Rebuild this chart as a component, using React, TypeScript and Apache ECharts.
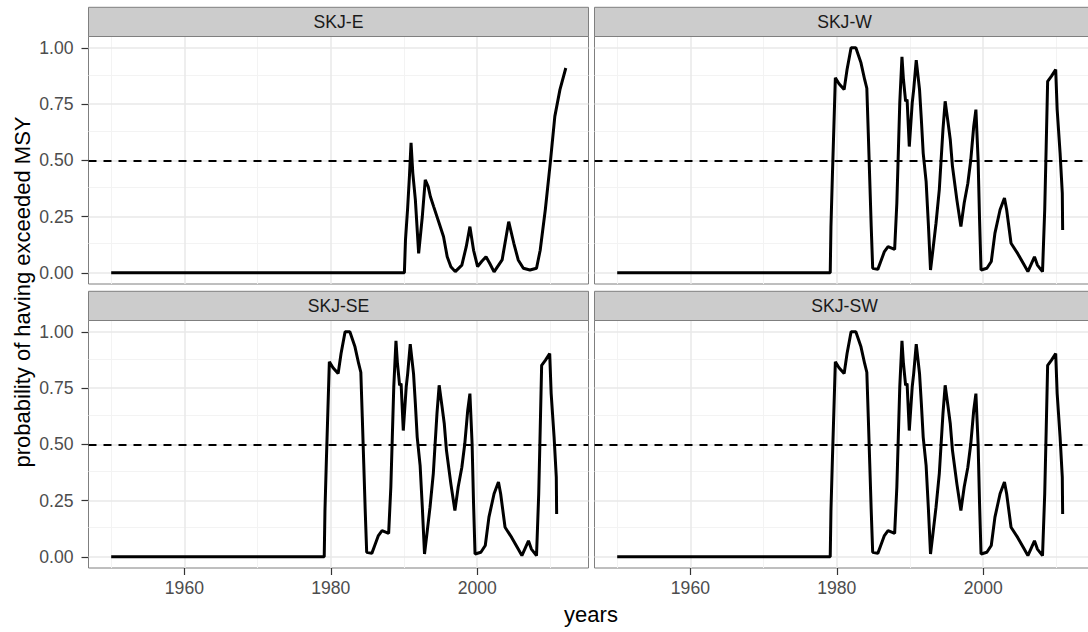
import React, { useEffect, useRef } from "react";
import * as echarts from "echarts";

// ---------- data ----------
const panelNames = ["SKJ-E", "SKJ-W", "SKJ-SE", "SKJ-SW"];
const yTicks = [0, 0.25, 0.5, 0.75, 1];
const yMinorTicks = [0.125, 0.375, 0.625, 0.875];
const xTicks = [1960, 1980, 2000];
const xMinorTicks = [1950, 1970, 1990, 2010];
const threshold = 0.5;

const eYears = [1950, 1990.05, 1990.2, 1990.5, 1990.75, 1990.96, 1991.2, 1991.55, 1992.0, 1992.5, 1992.9, 1993.3, 1993.6, 1994.05, 1994.8, 1995.4, 1995.9, 1996.4, 1997.0, 1997.9, 1998.5, 1999.0, 1999.5, 2000.05, 2000.6, 2001.2, 2001.7, 2002.3, 2003.4, 2004.3, 2005.0, 2005.6, 2006.3, 2007.2, 2008.1, 2008.6, 2009.3, 2010.0, 2010.6, 2011.3, 2012.1];
const eProb = [0, 0, 0.146, 0.29, 0.435, 0.577, 0.443, 0.324, 0.086, 0.25, 0.413, 0.383, 0.339, 0.294, 0.22, 0.16, 0.071, 0.027, 0.005, 0.034, 0.116, 0.205, 0.1, 0.027, 0.05, 0.071, 0.042, 0.004, 0.057, 0.227, 0.131, 0.057, 0.02, 0.012, 0.02, 0.1, 0.28, 0.495, 0.695, 0.814, 0.91];

const wYears = [1950, 1979.1, 1979.2, 1979.4, 1979.6, 1979.8, 1980.3, 1981.0, 1981.4, 1981.95, 1982.6, 1983.3, 1983.8, 1984.1, 1984.3, 1984.5, 1984.7, 1984.9, 1985.6, 1986.0, 1986.5, 1987.0, 1987.9, 1988.2, 1988.4, 1988.6, 1988.9, 1989.1, 1989.4, 1989.6, 1989.9, 1990.3, 1990.5, 1990.85, 1991.3, 1991.55, 1991.8, 1992.2, 1992.5, 1992.8, 1993.1, 1993.55, 1994.0, 1994.5, 1994.8, 1995.2, 1995.5, 1995.8, 1996.4, 1996.95, 1997.4, 1997.9, 1998.3, 1998.7, 1999.0, 1999.3, 1999.5, 1999.7, 2000.5, 2001.1, 2001.6, 2002.3, 2002.9, 2003.2, 2003.8, 2004.7, 2005.6, 2006.1, 2007.0, 2007.4, 2008.1, 2008.4, 2008.6, 2008.8, 2009.3, 2009.9, 2010.1, 2010.5, 2010.8, 2010.85];
const wProb = [0, 0, 0.205, 0.435, 0.65, 0.866, 0.84, 0.814, 0.903, 1.0, 1.0, 0.933, 0.859, 0.82, 0.62, 0.413, 0.205, 0.02, 0.015, 0.05, 0.094, 0.116, 0.104, 0.31, 0.532, 0.755, 0.96, 0.86, 0.762, 0.77, 0.561, 0.755, 0.814, 0.945, 0.814, 0.68, 0.532, 0.405, 0.22, 0.012, 0.094, 0.22, 0.369, 0.636, 0.762, 0.666, 0.591, 0.472, 0.324, 0.205, 0.31, 0.398, 0.502, 0.65, 0.725, 0.502, 0.235, 0.012, 0.02, 0.05, 0.176, 0.28, 0.332, 0.28, 0.131, 0.086, 0.034, 0.005, 0.071, 0.034, 0.005, 0.28, 0.561, 0.851, 0.873, 0.903, 0.725, 0.532, 0.354, 0.19];

// SKJ-SE and SKJ-SW show the same curve as SKJ-W in the reference
const seYears = wYears;
const seProb = wProb;
const swYears = wYears;
const swProb = wProb;

const panelYears = [eYears, wYears, seYears, swYears];
const panelProb = [eProb, wProb, seProb, swProb];

// ---------- component ----------
const FONT = "'Liberation Sans', Arial, Helvetica, sans-serif";

export default function App() {
  const ref = useRef<HTMLDivElement | null>(null);

  useEffect(() => {
    if (!ref.current) return;
    const chart = echarts.init(ref.current, undefined, { renderer: "svg" });

    const colLeft = [88.5, 594.5];
    const panelW = 500;
    const stripTop = [7.3, 291.3];
    const stripH = 29.2;
    const panelH = 247.5;

    const grids: any[] = [];
    const xAxes: any[] = [];
    const yAxes: any[] = [];
    const series: any[] = [];
    const graphics: any[] = [];

    for (let i = 0; i < 4; i++) {
      const col = i % 2;
      const row = Math.floor(i / 2);
      const left = colLeft[col];
      const top = stripTop[row] + stripH;
      const showX = row === 1;
      const showY = col === 0;

      grids.push({
        left,
        top,
        width: panelW,
        height: panelH,
        show: true,
        backgroundColor: "#ffffff",
        borderColor: "#7f7f7f",
        borderWidth: 1,
        containLabel: false,
        outerBoundsMode: "none",
        z: 0,
      });

      xAxes.push({
        type: "value",
        gridIndex: i,
        min: 1946.9,
        max: 2015.2,
        splitLine: { show: false },
        axisLine: { show: false, onZero: false },
        axisTick: {
          show: showX,
          length: 7,
          customValues: xTicks,
          lineStyle: { color: "#333333", width: 1.2 },
        },
        axisLabel: {
          show: showX,
          customValues: xTicks,
          margin: 11,
          fontSize: 17.6,
          fontFamily: FONT,
          color: "#4d4d4d",
          formatter: (v: number) => String(Math.round(v)),
        },
      });

      yAxes.push({
        type: "value",
        gridIndex: i,
        min: -0.05,
        max: 1.05,
        splitLine: { show: false },
        axisLine: { show: false, onZero: false },
        axisTick: {
          show: showY,
          length: 7,
          customValues: yTicks,
          lineStyle: { color: "#333333", width: 1.2 },
        },
        axisLabel: {
          show: showY,
          customValues: yTicks,
          margin: 15,
          fontSize: 17.6,
          fontFamily: FONT,
          color: "#4d4d4d",
          formatter: (v: number) => v.toFixed(2),
        },
      });

      const minorStyle = { color: "#f3f3f3", width: 1, type: "solid" };
      const majorStyle = { color: "#e8e8e8", width: 1.5, type: "solid" };
      const gridLines: any[] = [];
      xMinorTicks.forEach((v) => gridLines.push({ xAxis: v, lineStyle: minorStyle }));
      yMinorTicks.forEach((v) => gridLines.push({ yAxis: v, lineStyle: minorStyle }));
      xTicks.forEach((v) => gridLines.push({ xAxis: v, lineStyle: majorStyle }));
      yTicks.forEach((v) => gridLines.push({ yAxis: v, lineStyle: majorStyle }));

      // grid lines (through the axes' scales)
      series.push({
        type: "line",
        xAxisIndex: i,
        yAxisIndex: i,
        data: [[panelYears[i][0], panelProb[i][0]]],
        showSymbol: false,
        symbol: "none",
        lineStyle: { width: 0, opacity: 0 },
        silent: true,
        z: 1,
        markLine: {
          silent: true,
          z: 1,
          symbol: ["none", "none"],
          label: { show: false },
          animation: false,
          data: gridLines,
        },
      });

      // data line
      series.push({
        type: "line",
        name: panelNames[i],
        xAxisIndex: i,
        yAxisIndex: i,
        data: panelYears[i].map((y, k) => [y, panelProb[i][k]]),
        showSymbol: false,
        symbol: "none",
        lineStyle: { color: "#000000", width: 3 },
        z: 3,
      });

      // threshold dashed line
      series.push({
        type: "line",
        xAxisIndex: i,
        yAxisIndex: i,
        data: [[panelYears[i][0], panelProb[i][0]]],
        showSymbol: false,
        symbol: "none",
        lineStyle: { width: 0, opacity: 0 },
        silent: true,
        z: 4,
        markLine: {
          silent: true,
          z: 4,
          symbol: ["none", "none"],
          label: { show: false },
          animation: false,
          lineStyle: { color: "#000000", width: 1.8, type: [8, 7] },
          data: [{ yAxis: threshold }],
        },
      });

      // strip
      graphics.push({
        type: "rect",
        shape: { x: left, y: stripTop[row], width: panelW, height: stripH },
        style: { fill: "#cccccc", stroke: "#7f7f7f", lineWidth: 1 },
        z: 10,
      });
      graphics.push({
        type: "text",
        x: left + panelW / 2,
        y: stripTop[row] + stripH / 2,
        style: {
          text: panelNames[i],
          fontSize: 17.6,
          fontFamily: FONT,
          fill: "#1a1a1a",
          align: "center",
          verticalAlign: "middle",
        },
        z: 11,
      });
    }

    // axis titles
    graphics.push({
      type: "text",
      x: 591,
      y: 614,
      style: {
        text: "years",
        fontSize: 22,
        fontFamily: FONT,
        fill: "#000000",
        align: "center",
        verticalAlign: "middle",
      },
      z: 11,
    });
    graphics.push({
      type: "text",
      x: 22,
      y: 292,
      rotation: Math.PI / 2,
      style: {
        text: "probability of having exceeded MSY",
        fontSize: 22,
        fontFamily: FONT,
        fill: "#000000",
        align: "center",
        verticalAlign: "middle",
      },
      z: 11,
    });

    chart.setOption({
      animation: false,
      backgroundColor: "#ffffff",
      grid: grids,
      xAxis: xAxes,
      yAxis: yAxes,
      series,
      graphic: graphics,
    });

    return () => {
      chart.dispose();
    };
  }, []);

  return (
    <div
      ref={ref}
      style={{ position: "fixed", left: 0, top: 0, width: 1088, height: 632, background: "#ffffff" }}
    />
  );
}
